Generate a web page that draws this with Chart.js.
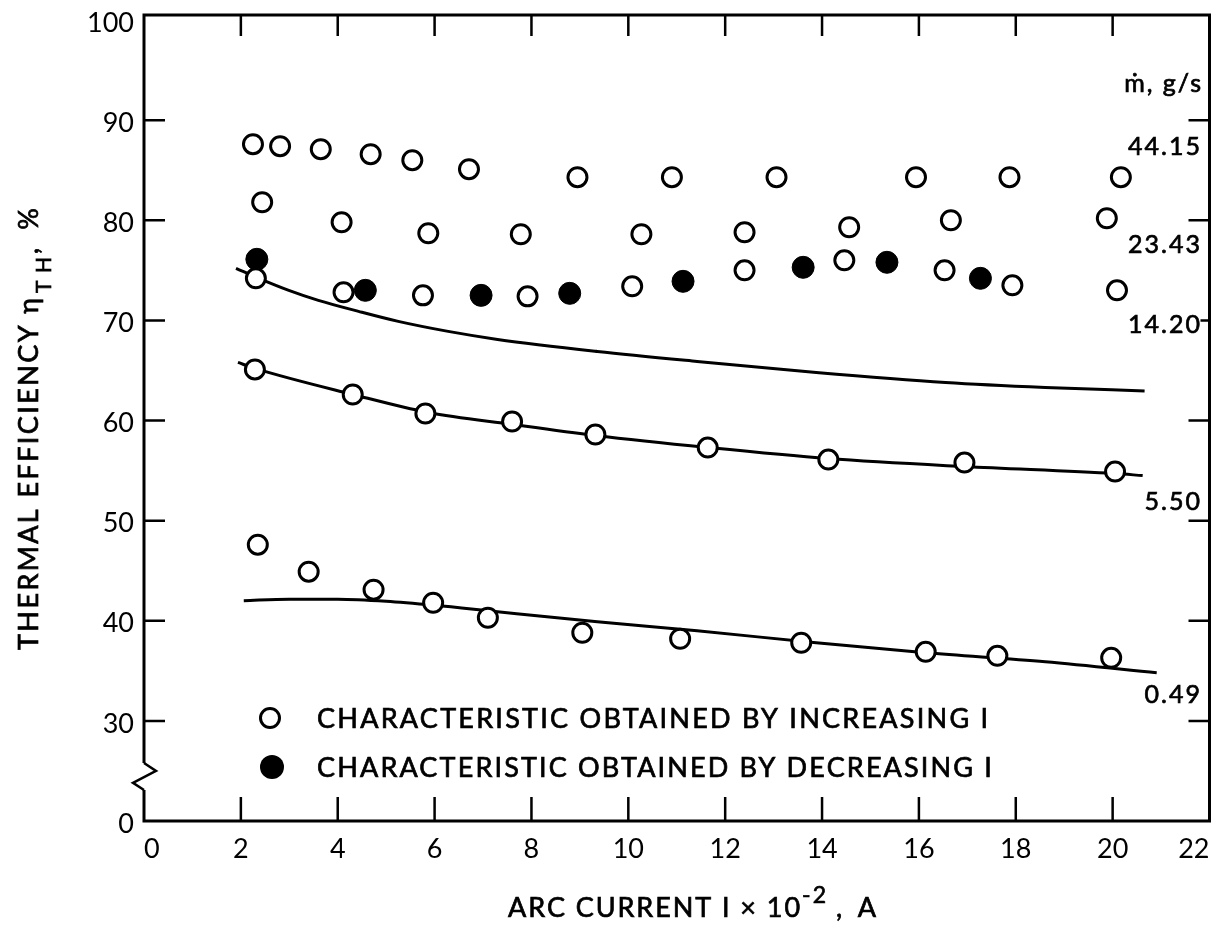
<!DOCTYPE html>
<html>
<head>
<meta charset="utf-8">
<script src="https://cdn.jsdelivr.net/npm/chart.js@4/dist/chart.umd.min.js"></script>
<style>
  html, body { margin: 0; padding: 0; background: #fff; }
  #wrap { width: 1222px; height: 926px; }
</style>
</head>
<body>
<div id="wrap"><canvas id="c" width="1222" height="926"></canvas></div>
<script>
// Arc current (I x 10^-2, A) and thermal efficiency (%) per mass flow rate
const current4415 = [2.25, 2.81, 3.65, 4.68, 5.54, 6.71, 8.95, 10.90, 13.06, 15.94, 17.87, 20.17];
const eff4415     = [87.6, 87.4, 87.1, 86.6, 86.0, 85.1, 84.3, 84.3, 84.3, 84.3, 84.3, 84.3];

const current2343 = [2.44, 4.08, 5.87, 7.78, 10.27, 12.40, 14.56, 16.66, 19.88];
const eff2343     = [81.8, 79.8, 78.7, 78.6, 78.6, 78.8, 79.3, 80.0, 80.2];

const current1420 = [2.31, 4.12, 5.76, 7.92, 10.08, 12.40, 14.46, 16.53, 17.93, 20.09];
const eff1420     = [74.2, 72.8, 72.5, 72.4, 73.4, 75.0, 76.0, 75.0, 73.5, 73.0];

// points obtained while decreasing the current
const currentDecr = [2.33, 4.57, 6.96, 8.79, 11.13, 13.61, 15.34, 17.27];
const effDecr     = [76.1, 73.0, 72.5, 72.7, 73.9, 75.3, 75.8, 74.2];

const current550 = [2.29, 4.31, 5.81, 7.60, 9.32, 11.64, 14.13, 16.94, 20.05];
const eff550     = [65.1, 62.6, 60.7, 59.9, 58.6, 57.3, 56.1, 55.8, 54.9];

const current049 = [2.35, 3.40, 4.74, 5.97, 7.10, 9.05, 11.07, 13.57, 16.14, 17.62, 19.97];
const eff049     = [47.6, 44.9, 43.1, 41.8, 40.3, 38.8, 38.2, 37.8, 36.9, 36.5, 36.3];

// faired curves
const curveX1420 = [1.90, 2.37, 2.99, 3.60, 4.43, 5.25, 6.28, 7.30, 9.36, 11.42, 13.88, 16.55, 18.61, 20.66];
const curveY1420 = [75.2, 74.2, 73.0, 72.0, 70.9, 69.9, 68.9, 68.1, 66.9, 65.9, 64.8, 63.8, 63.3, 62.95];
const curveX550  = [1.94, 2.29, 4.31, 5.87, 7.61, 9.32, 11.64, 14.13, 16.94, 20.05, 20.62];
const curveY550  = [65.8, 65.2, 62.6, 60.8, 59.6, 58.5, 57.3, 56.2, 55.4, 54.7, 54.5];
const curveX049  = [2.06, 3.00, 4.00, 5.00, 6.00, 7.30, 9.36, 11.42, 13.88, 16.14, 18.61, 20.91];
const curveY049  = [42.0, 42.15, 42.15, 41.95, 41.55, 40.9, 39.9, 39.0, 37.8, 36.8, 35.9, 34.8];

// axis ticks; the lowest y position carries the suppressed-zero label
const xTickValues = [0, 2, 4, 6, 8, 10, 12, 14, 16, 18, 20, 22];
const yTickValues = [20, 30, 40, 50, 60, 70, 80, 90, 100];
const yTickLabels = ['0', '30', '40', '50', '60', '70', '80', '90', '100'];

// flow-rate labels at the right of each family
const flowLabels = ['44.15', '23.43', '14.20', '5.50', '0.49'];

const FONT = 'Lato, "DejaVu Sans", sans-serif';

const pts = (xs, ys) => xs.map((x, i) => ({ x, y: ys[i] }));

function markerSet(xs, ys, filled) {
  return {
    type: 'scatter',
    data: pts(xs, ys),
    showLine: false,
    pointStyle: 'circle',
    pointRadius: filled ? 11 : 9.5,
    pointBorderWidth: filled ? 1 : 3,
    pointBackgroundColor: filled ? '#000' : '#fff',
    pointBorderColor: '#000',
    order: 0
  };
}
function curveSet(xs, ys) {
  return {
    type: 'line',
    data: pts(xs, ys),
    borderColor: '#000',
    borderWidth: 3,
    pointRadius: 0,
    cubicInterpolationMode: 'monotone',
    fill: false,
    order: 10
  };
}

// draws text spread to a given width, with a light outline for weight
function spreadText(ctx, text, x, y, width) {
  ctx.letterSpacing = '0px';
  const w = ctx.measureText(text).width;
  const ls = (width - w) / Math.max(1, text.length - 1);
  ctx.letterSpacing = ls.toFixed(2) + 'px';
  ctx.fillText(text, x, y);
  ctx.strokeText(text, x, y);
  const out = ctx.measureText(text).width;
  ctx.letterSpacing = '0px';
  return out;
}
function heavyText(ctx, text, x, y) {
  ctx.fillText(text, x, y);
  ctx.strokeText(text, x, y);
  return ctx.measureText(text).width;
}

const decor = {
  id: 'decor',
  afterDraw(chart) {
    const { ctx, chartArea: a, scales: { x, y } } = chart;
    ctx.save();
    ctx.strokeStyle = '#000';
    ctx.fillStyle = '#000';
    ctx.lineJoin = 'miter';

    // frame with broken-scale zigzag on the left side
    const zTop = y.getPixelForValue(25.8);
    const zBot = y.getPixelForValue(23.1);
    ctx.lineWidth = 3;
    ctx.beginPath();
    ctx.moveTo(a.left, zTop);
    ctx.lineTo(a.left, a.top);
    ctx.lineTo(a.right, a.top);
    ctx.lineTo(a.right, a.bottom);
    ctx.lineTo(a.left, a.bottom);
    ctx.lineTo(a.left, zBot);
    ctx.stroke();
    ctx.lineWidth = 2.5;
    ctx.beginPath();
    ctx.moveTo(a.left, zTop);
    ctx.lineTo(a.left + 12, zTop + 8);
    ctx.lineTo(a.left - 11, zTop + 20);
    ctx.lineTo(a.left, zBot);
    ctx.stroke();

    // inward tick marks
    ctx.lineWidth = 2.5;
    ctx.beginPath();
    xTickValues.slice(1, -1).forEach(v => {
      const px = x.getPixelForValue(v);
      ctx.moveTo(px, a.top); ctx.lineTo(px, a.top + 21);
      ctx.moveTo(px, a.bottom); ctx.lineTo(px, a.bottom - 24);
    });
    yTickValues.slice(1, -1).forEach(v => {
      const py = y.getPixelForValue(v);
      ctx.moveTo(a.left, py); ctx.lineTo(a.left + 21, py);
      ctx.moveTo(a.right, py); ctx.lineTo(a.right - (v === 70 ? 9 : 21), py);
    });
    ctx.stroke();

    ctx.lineWidth = 0.7;
    ctx.textBaseline = 'alphabetic';
    ctx.textAlign = 'left';

    // x-axis title with superscript
    const tb = 917;
    ctx.font = '27px ' + FONT;
    spreadText(ctx, 'ARC CURRENT I \u00D7 10', 508, tb, 292);
    ctx.font = '23px ' + FONT;
    spreadText(ctx, '-2', 802, tb - 14, 24);
    ctx.font = '27px ' + FONT;
    spreadText(ctx, ', A', 836, tb, 40);

    // y-axis title, rotated, with subscript
    ctx.save();
    ctx.translate(38, 650);
    ctx.rotate(-Math.PI / 2);
    ctx.font = '27px ' + FONT;
    spreadText(ctx, 'THERMAL EFFICIENCY \u03B7', 0, 0, 352);
    ctx.font = '21px ' + FONT;
    spreadText(ctx, 'TH', 357, 13, 36);
    ctx.font = '27px ' + FONT;
    spreadText(ctx, ',  %', 396, 0, 46);
    ctx.restore();

    // legend
    ctx.lineWidth = 3;
    ctx.beginPath();
    ctx.arc(270, 718, 9.5, 0, Math.PI * 2);
    ctx.fillStyle = '#fff';
    ctx.fill();
    ctx.stroke();
    ctx.fillStyle = '#000';
    ctx.beginPath();
    ctx.arc(272, 767, 12, 0, Math.PI * 2);
    ctx.fill();
    ctx.lineWidth = 0.7;
    ctx.font = '27px ' + FONT;
    spreadText(ctx, 'CHARACTERISTIC OBTAINED BY INCREASING I', 317, 728, 671);
    spreadText(ctx, 'CHARACTERISTIC OBTAINED BY DECREASING I', 317, 777, 675);

    // flow-rate labels
    ctx.textAlign = 'right';
    ctx.font = '25px ' + FONT;
    ctx.letterSpacing = '2px';
    heavyText(ctx, '\u1E41, g/s', 1203, 92);
    const baselines = [155, 253, 333, 510, 703];
    flowLabels.forEach((s, i) => heavyText(ctx, s, 1202, baselines[i]));
    ctx.letterSpacing = '0px';
    ctx.restore();
  }
};

new Chart(document.getElementById('c'), {
  data: {
    datasets: [
      markerSet(current4415, eff4415, false),
      markerSet(current2343, eff2343, false),
      markerSet(current1420, eff1420, false),
      markerSet(currentDecr, effDecr, true),
      markerSet(current550, eff550, false),
      markerSet(current049, eff049, false),
      curveSet(curveX1420, curveY1420),
      curveSet(curveX550, curveY550),
      curveSet(curveX049, curveY049)
    ]
  },
  options: {
    responsive: false,
    devicePixelRatio: 1,
    animation: false,
    layout: { padding: { top: 15, right: 7, left: 0, bottom: 0 } },
    plugins: { legend: { display: false }, tooltip: { enabled: false } },
    scales: {
      x: {
        type: 'linear',
        min: 0, max: 22,
        afterBuildTicks: s => { s.ticks = xTickValues.map(v => ({ value: v })); },
        afterFit: s => { s.height = 105; s.paddingLeft = 0; s.paddingRight = 0; },
        grid: { display: false, drawTicks: false },
        border: { display: false },
        ticks: {
          color: '#000',
          font: { family: FONT, size: 27 },
          padding: 12,
          align: 'inner',
          maxRotation: 0,
          autoSkip: false
        }
      },
      y: {
        type: 'linear',
        min: 20, max: 100.5,
        afterBuildTicks: s => { s.ticks = yTickValues.map(v => ({ value: v })); },
        afterFit: s => { s.width = 144; s.paddingTop = 0; s.paddingBottom = 0; },
        grid: { display: false, drawTicks: false },
        border: { display: false },
        ticks: {
          color: '#000',
          font: { family: FONT, size: 27 },
          padding: 10,
          labelOffset: 3,
          autoSkip: false,
          callback: v => yTickLabels[yTickValues.indexOf(v)]
        }
      }
    }
  },
  plugins: [decor]
});
</script>
</body>
</html>
